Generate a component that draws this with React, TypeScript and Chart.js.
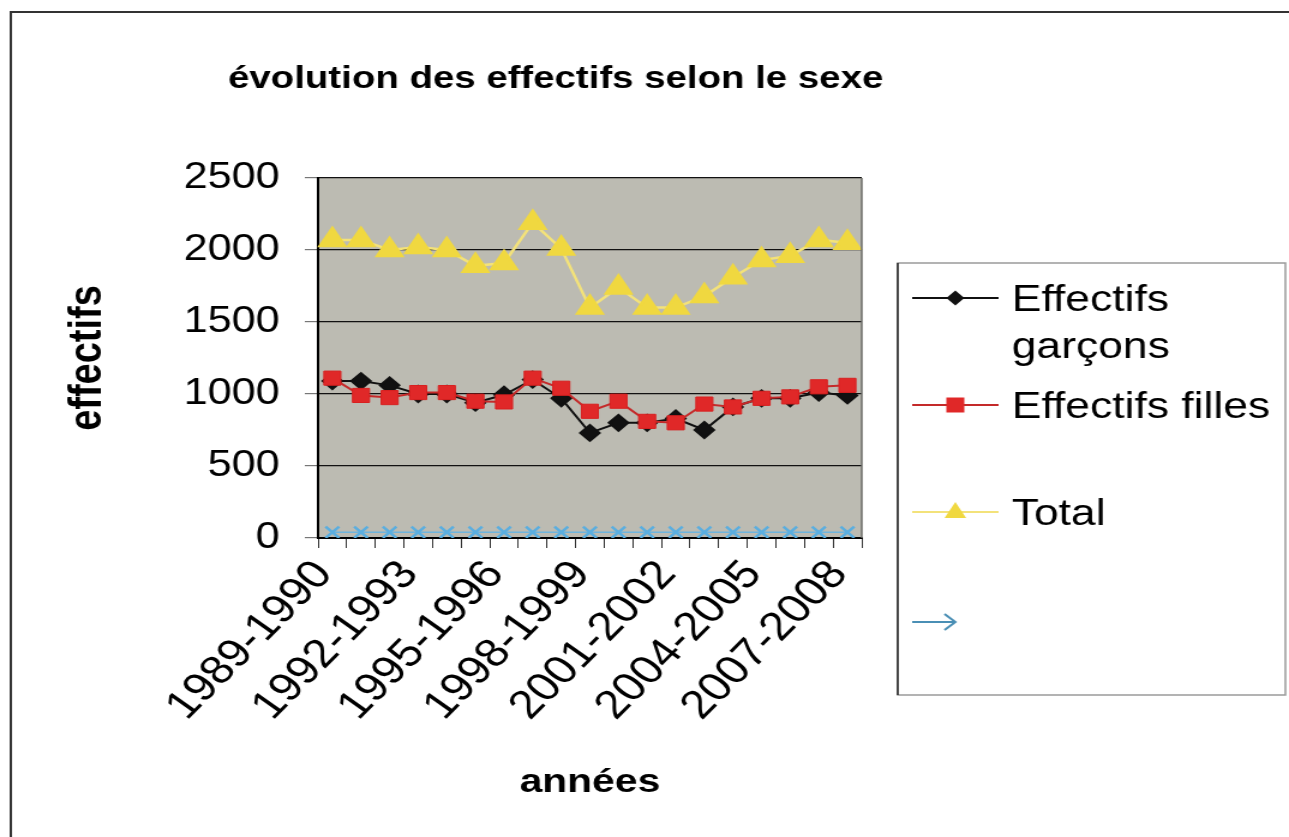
import React, { useEffect, useRef } from 'react';
import { Chart, registerables } from 'chart.js';

Chart.register(...registerables);

const categories = [
  '1989-1990', '1990-1991', '1991-1992', '1992-1993', '1993-1994', '1994-1995', '1995-1996',
  '1996-1997', '1997-1998', '1998-1999', '1999-2000', '2000-2001', '2001-2002', '2002-2003',
  '2003-2004', '2004-2005', '2005-2006', '2006-2007', '2007-2008',
];
const garcons = [1090, 1090, 1060, 1000, 1000, 940, 995, 1100, 970, 730, 800, 800, 830, 750, 910, 970, 970, 1010, 990];
const filles = [1110, 990, 975, 1010, 1010, 950, 945, 1110, 1040, 880, 950, 810, 800, 930, 910, 970, 980, 1050, 1060];
const total = [2070, 2070, 2000, 2020, 2000, 1890, 1910, 2190, 2010, 1600, 1740, 1600, 1600, 1680, 1810, 1930, 1960, 2070, 2050];
const serie4 = [40, 40, 40, 40, 40, 40, 40, 40, 40, 40, 40, 40, 40, 40, 40, 40, 40, 40, 40];
const seriesNames = ['Effectifs garçons', 'Effectifs filles', 'Total', ''];
const legendLines = [['Effectifs', 'garçons'], ['Effectifs filles'], ['Total'], ['']];
const yMin = 0;
const yMax = 2500;
const yStep = 500;
const labelStep = 3;

const W = 1074;
const H = 837;
const SX = 1289 / W;
const FONT = '"Liberation Sans", Arial, sans-serif';

const decor = {
  id: 'decor',
  beforeDraw(chart: any) {
    const { ctx, chartArea: a } = chart;
    ctx.save();
    ctx.fillStyle = '#ffffff';
    ctx.fillRect(0, 0, chart.width, chart.height);
    ctx.fillStyle = '#bcbbb2';
    ctx.fillRect(a.left, a.top, a.right - a.left, a.bottom - a.top);
    ctx.restore();
  },
  afterDraw(chart: any) {
    const { ctx, chartArea: a } = chart;
    ctx.save();
    // outer frame
    ctx.strokeStyle = '#333';
    ctx.lineWidth = 2;
    ctx.beginPath();
    ctx.moveTo(9, H);
    ctx.lineTo(9, 12);
    ctx.lineTo(W, 12);
    ctx.stroke();
    // plot right border
    ctx.strokeStyle = '#6a6a66';
    ctx.lineWidth = 1.5;
    ctx.beginPath();
    ctx.moveTo(a.right, a.top);
    ctx.lineTo(a.right, a.bottom);
    ctx.stroke();

    // title
    ctx.fillStyle = '#000';
    ctx.textAlign = 'center';
    ctx.textBaseline = 'alphabetic';
    ctx.font = `bold 32px ${FONT}`;
    ctx.fillText('évolution des effectifs selon le sexe', 463, 88);
    // x title
    ctx.font = `bold 34px ${FONT}`;
    ctx.fillText('années', (a.left + a.right) / 2, 792);
    // y title
    ctx.save();
    ctx.translate(84, (a.top + a.bottom) / 2);
    ctx.rotate(-Math.PI / 2);
    ctx.font = `bold 38px ${FONT}`;
    ctx.fillText('effectifs', 0, 0);
    ctx.restore();

    // legend box
    const lx = 748, ly = 263, lw = 323, lh = 432;
    ctx.fillStyle = '#fff';
    ctx.fillRect(lx, ly, lw, lh);
    ctx.strokeStyle = '#9a9a9a';
    ctx.lineWidth = 1.5;
    ctx.strokeRect(lx, ly, lw, lh);
    ctx.strokeStyle = '#222';
    ctx.beginPath();
    ctx.moveTo(lx, ly);
    ctx.lineTo(lx, ly + lh);
    ctx.stroke();

    const rows = [298, 405, 512, 622];
    const x0 = 760, x1 = 832, mx = 796;
    const ds = chart.data.datasets;
    ctx.font = `37px ${FONT}`;
    ctx.textAlign = 'left';
    ctx.textBaseline = 'alphabetic';
    rows.forEach((y, i) => {
      const d = ds[i];
      if (i < 3) {
        ctx.strokeStyle = d.borderColor;
        ctx.lineWidth = 2;
        ctx.beginPath();
        ctx.moveTo(x0, y);
        ctx.lineTo(x1, y);
        ctx.stroke();
      }
      ctx.fillStyle = d.pointBackgroundColor;
      ctx.beginPath();
      if (i === 0) {
        ctx.moveTo(mx - 7.5, y);
        ctx.lineTo(mx, y - 7.5);
        ctx.lineTo(mx + 7.5, y);
        ctx.lineTo(mx, y + 7.5);
        ctx.closePath();
        ctx.fill();
      } else if (i === 1) {
        ctx.rect(mx - 7.5, y - 7.5, 15, 15);
        ctx.fill();
      } else if (i === 2) {
        ctx.moveTo(mx, y - 10);
        ctx.lineTo(mx + 9, y + 6);
        ctx.lineTo(mx - 9, y + 6);
        ctx.closePath();
        ctx.fill();
      } else {
        ctx.strokeStyle = '#4a8fb5';
        ctx.lineWidth = 2;
        ctx.beginPath();
        ctx.moveTo(x0, y);
        ctx.lineTo(mx, y);
        ctx.moveTo(mx - 9, y - 8);
        ctx.lineTo(mx, y);
        ctx.lineTo(mx - 9, y + 8);
        ctx.stroke();
      }
      ctx.fillStyle = '#000';
      const lines = legendLines[i];
      lines.forEach((t, k) => {
        if (t) ctx.fillText(t, 843, y + 13 + k * 47);
      });
    });
    ctx.restore();
  },
};

export default function App() {
  const ref = useRef<HTMLCanvasElement | null>(null);
  useEffect(() => {
    document.body.style.margin = '0';
    const chart = new Chart(ref.current as HTMLCanvasElement, {
      type: 'line',
      data: {
        labels: categories,
        datasets: [
          {
            label: seriesNames[0],
            data: garcons,
            borderColor: '#111111',
            backgroundColor: '#111111',
            pointBackgroundColor: '#111111',
            pointBorderColor: '#111111',
            pointStyle: 'rectRot',
            pointRadius: 8,
            borderWidth: 2,
            order: 3,
          },
          {
            label: seriesNames[1],
            data: filles,
            borderColor: '#c42a2a',
            backgroundColor: '#e02828',
            pointBackgroundColor: '#e02828',
            pointBorderColor: '#d82020',
            pointStyle: 'rect',
            pointRadius: 10,
            pointBorderWidth: 1,
            borderWidth: 2,
            order: 2,
          },
          {
            label: seriesNames[2],
            data: total,
            borderColor: '#f3e27a',
            backgroundColor: '#f0d840',
            pointBackgroundColor: '#f0d840',
            pointBorderColor: '#f0d840',
            pointStyle: 'triangle',
            pointRadius: 12,
            borderWidth: 2.5,
            order: 1,
          },
          {
            label: seriesNames[3],
            data: serie4,
            borderColor: '#6fb4dc',
            backgroundColor: '#5aaee0',
            pointBackgroundColor: '#5aaee0',
            pointBorderColor: '#5aaee0',
            pointStyle: 'crossRot',
            pointRadius: 8,
            pointBorderWidth: 2.5,
            borderWidth: 1.5,
            order: 0,
          },
        ],
      },
      options: {
        animation: false,
        responsive: true,
        maintainAspectRatio: false,
        layout: { padding: { top: 178, right: 356, bottom: 0, left: 0 } },
        plugins: {
          legend: { display: false },
          title: { display: false },
          tooltip: { enabled: false },
        },
        elements: { line: { tension: 0 } },
        scales: {
          x: {
            type: 'category',
            offset: true,
            grid: {
              offset: true,
              drawOnChartArea: false,
              drawTicks: true,
              tickLength: 10,
              color: '#333',
            },
            border: { color: '#000', width: 2 },
            ticks: {
              autoSkip: false,
              minRotation: 50,
              maxRotation: 50,
              padding: 4,
              labelOffset: -7,
              color: '#000',
              font: { family: FONT, size: 40 },
              callback: (_v: any, i: number) => (i % labelStep === 0 ? categories[i] : ''),
            },
            afterFit: (s: any) => {
              s.height = H - 538;
            },
          },
          y: {
            min: yMin,
            max: yMax,
            ticks: {
              stepSize: yStep,
              padding: 21,
              color: '#000',
              font: { family: FONT, size: 36 },
              callback: (v: any) => String(v),
            },
            grid: {
              color: '#111',
              lineWidth: 1.2,
              tickLength: 11,
              tickColor: '#777',
            },
            border: { color: '#000', width: 2 },
            afterFit: (s: any) => {
              s.width = 265;
            },
          },
        },
      },
      plugins: [decor],
    });
    return () => chart.destroy();
  }, []);

  return (
    <div
      style={{
        position: 'absolute',
        left: 0,
        top: 0,
        width: W + 'px',
        height: H + 'px',
        transform: `scaleX(${SX})`,
        transformOrigin: '0 0',
      }}
    >
      <canvas ref={ref} />
    </div>
  );
}
